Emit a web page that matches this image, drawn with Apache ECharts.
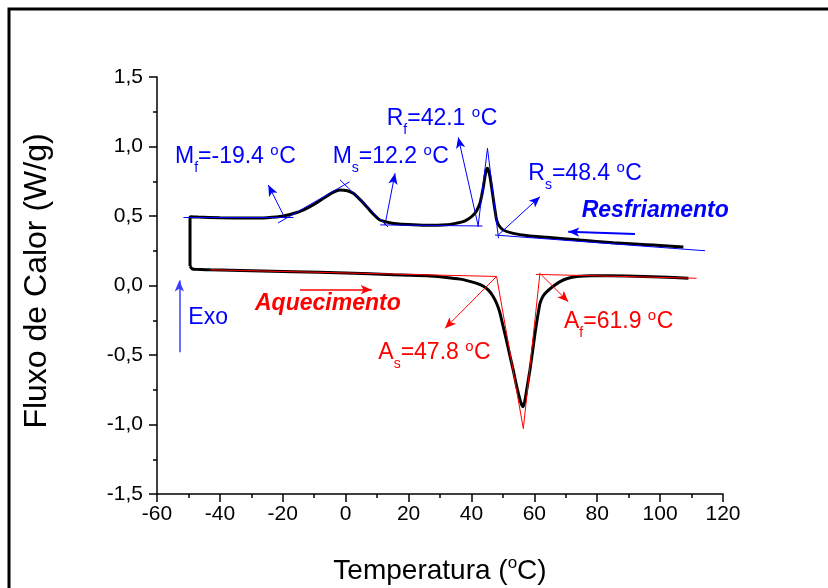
<!DOCTYPE html>
<html><head><meta charset="utf-8">
<script src="https://cdn.jsdelivr.net/npm/echarts@6/dist/echarts.min.js"></script>
<style>html,body{margin:0;padding:0;background:#fff}#c{width:828px;height:588px}</style>
</head><body><div id="c"></div>
<script>
// Cooling curve (Resfriamento), read right to left, incl. vertical drop at -49.5 °C
const coolT = [107.4, 100, 95.8, 85.1, 74.5, 64, 58, 53.3, 50.1, 48.8, 48.0, 47.5, 47.0, 46.4, 45.9, 45.4, 45.1, 44.7, 44.2, 43.8, 43.2, 42.7, 41.7, 40.6, 39, 37.4, 35, 32.1, 26, 21.5, 17, 14, 10.9, 8.5, 6.7, 4.5, 2.4, 0.5, -1.8, -4.5, -7.1, -10, -12.4, -15.5, -19.8, -25, -30.4, -40, -47, -49.5, -49.5];
const coolQ = [0.277, 0.288, 0.294, 0.308, 0.327, 0.347, 0.358, 0.375, 0.399, 0.43, 0.471, 0.54, 0.615, 0.71, 0.783, 0.83, 0.843, 0.83, 0.77, 0.711, 0.64, 0.591, 0.54, 0.507, 0.478, 0.459, 0.447, 0.437, 0.433, 0.437, 0.443, 0.452, 0.471, 0.52, 0.567, 0.62, 0.663, 0.682, 0.687, 0.665, 0.627, 0.585, 0.555, 0.525, 0.500, 0.488, 0.485, 0.488, 0.492, 0.495, 0.14];
// Heating curve (Aquecimento)
const heatT = [-49.5, -48.8, -47.5, -46, -43, -30, -16.6, 0, 15.2, 25.8, 32, 36.4, 39.5, 41.7, 43.8, 45.4, 46.8, 48.0, 49.1, 50.1, 51.2, 52.3, 53.4, 54.4, 55.3, 56.0, 56.4, 56.9, 57.5, 58.6, 59.4, 60.2, 61.0, 61.8, 62.8, 64, 66, 68.2, 70.5, 73.5, 78, 89.4, 100, 109];
const heatQ = [0.14, 0.12, 0.116, 0.115, 0.113, 0.106, 0.099, 0.09, 0.078, 0.070, 0.058, 0.046, 0.03, 0.015, -0.005, -0.033, -0.075, -0.128, -0.2, -0.296, -0.40, -0.512, -0.62, -0.728, -0.81, -0.860, -0.872, -0.84, -0.76, -0.608, -0.48, -0.347, -0.23, -0.128, -0.075, -0.044, -0.005, 0.028, 0.05, 0.064, 0.07, 0.069, 0.061, 0.052];

// Tangent constructions [x1, y1, x2, y2]
const tangentsBlue = [
  [-51.6, 0.493, -16.6, 0.493],
  [-21.5, 0.45, 1.2, 0.745],
  [-1.8, 0.76, 13.5, 0.42],
  [11.0, 0.436, 43.5, 0.428],
  [42.1, 0.425, 45.1, 0.987],
  [45.1, 0.987, 48.6, 0.34],
  [47.5, 0.363, 114.3, 0.25]
];
const arrowsBlue = [
  [-19.3, 0.484, -24.6, 0.723],
  [12.5, 0.435, 15.7, 0.807],
  [42.2, 0.423, 35.8, 1.066],
  [48.5, 0.363, 61.8, 0.639]
];
const tangentsRed = [
  [-43.0, 0.113, 48.0, 0.065],
  [48.0, 0.065, 56.5, -1.03],
  [61.8, 0.092, 56.5, -1.03],
  [60.5, 0.08, 111.6, 0.052]
];
const arrowsRed = [
  [48.0, 0.065, 31.6, -0.308],
  [62.3, 0.075, 70.8, -0.117]
];
const arrowResfriamento = [92.0, 0.37, 70.8, 0.387];
const arrowAquecimento = [-14.5, -0.03, 8.3, -0.03];
const arrowExo = [-52.9, -0.48, -52.9, 0.036];

const xMin = -60, xMax = 120, xStep = 20;
const yMin = -1.5, yMax = 1.5, yStep = 0.5;

const FAM = '"Liberation Sans", Arial, Helvetica, sans-serif';
const mctx = document.createElement('canvas').getContext('2d');
function fontStr(fs, st) { return (st || '') + ' ' + fs + 'px ' + FAM; }
function tw(t, fs, st) { mctx.font = fontStr(fs, st); return mctx.measureText(t).width; }
function piece(x, baseline, t, fs, color, st) {
  return {type: 'text', x: x, y: baseline - 0.3465 * fs, z: 100, silent: true,
    style: {text: t, font: fontStr(fs, st), fill: color, align: 'left', verticalAlign: 'middle'}};
}
// label like M_f=-19.4 °C built from pieces (main, subscript, rest, superscript o, C)
function subLabel(x, baseline, main, sub, rest, color) {
  const F = 23, S = 15;
  const out = [];
  let cx = x;
  out.push(piece(cx, baseline, main, F, color)); cx += tw(main, F);
  out.push(piece(cx, baseline + 8, sub, 14, color)); cx += tw(sub, 14);
  out.push(piece(cx, baseline, rest, F, color)); cx += tw(rest, F);
  out.push(piece(cx, baseline - 9, 'o', S, color)); cx += tw('o', S) + 0.5;
  out.push(piece(cx, baseline, 'C', F, color));
  return out;
}
function degTitle(before, after, F) {
  const S = Math.round(F * 0.6);
  const w1 = tw(before, F), w2 = tw('o', S), w3 = tw(after, F);
  const total = w1 + w2 + w3;
  let cx = -total / 2;
  const out = [piece(cx, 0, before, F, '#000')]; cx += w1;
  out.push(piece(cx, -F * 0.716 + F * 0.3, 'o', S, '#000')); cx += w2;
  out.push(piece(cx, 0, after, F, '#000'));
  return out;
}
function centered(t, F) { return [piece(-tw(t, F) / 2, 0, t, F, '#000')]; }

function seg(s, arrow, extra) {
  const a = Object.assign({coord: [s[0], s[1]], symbol: 'none'}, extra || {});
  const b = Object.assign({coord: [s[2], s[3]], symbol: arrow ? 'arrow' : 'none', symbolSize: [7, 11]}, extra || {});
  return [a, b];
}
function annotSeries(color, tangents, arrows, extraLines) {
  const data = tangents.map(s => seg(s, false)).concat(arrows.map(s => seg(s, true)));
  (extraLines || []).forEach(e => data.push(seg(e.s, true, {lineStyle: {width: e.w, color: e.c || color}})));
  return {
    type: 'line', data: [], z: 5, silent: true,
    markLine: {
      silent: true, animation: false, symbol: ['none', 'none'], precision: 4,
      label: {show: false}, emphasis: {disabled: true},
      lineStyle: {color: color, width: 1, type: 'solid'},
      data: data
    }
  };
}

const BLUE = '#0000ff', RED = '#ff0000';
const graphics = [
  {type: 'rect', shape: {x: 9, y: 9, width: 900, height: 700}, z: 0, silent: true,
   style: {fill: 'none', stroke: '#000', lineWidth: 3}}
].concat(
  subLabel(175, 165, 'M', 'f', '=-19.4 ', BLUE),
  subLabel(332.7, 165, 'M', 's', '=12.2 ', BLUE),
  subLabel(386.7, 126.7, 'R', 'f', '=42.1 ', BLUE),
  subLabel(528.3, 181.7, 'R', 's', '=48.4 ', BLUE),
  subLabel(378.3, 360.7, 'A', 's', '=47.8 ', RED),
  subLabel(564, 330, 'A', 'f', '=61.9 ', RED),
  [piece(581.7, 218.3, 'Resfriamento', 23, BLUE, 'italic bold'),
   piece(255, 311.7, 'Aquecimento', 23, RED, 'italic bold'),
   piece(188.3, 326, 'Exo', 23, BLUE),
   {type: 'group', x: 440, y: 581, children: degTitle('Temperatura (', 'C)', 28)},
   {type: 'group', x: 48, y: 281, rotation: Math.PI / 2, children: centered('Fluxo de Calor (W/g)', 32)}]
);

const chart = echarts.init(document.getElementById('c'), null, {renderer: 'canvas'});
const axisCommon = {
  axisLine: {onZero: false, lineStyle: {color: '#000', width: 1.5}},
  axisTick: {show: true, inside: false, length: 8, lineStyle: {color: '#000', width: 1.5}},
  minorTick: {show: true, splitNumber: 2, length: 4, lineStyle: {color: '#000', width: 1.5}},
  splitLine: {show: false}
};
chart.setOption({
  animation: false,
  backgroundColor: '#fff',
  grid: {left: 157, right: 105, top: 77, bottom: 94, containLabel: false},
  xAxis: Object.assign({
    type: 'value', min: xMin, max: xMax, interval: xStep,
    axisLabel: {color: '#000', fontSize: 21, fontFamily: FAM, margin: 10}
  }, axisCommon),
  yAxis: Object.assign({
    type: 'value', min: yMin, max: yMax, interval: yStep,
    axisLabel: {color: '#000', fontSize: 21, fontFamily: FAM, margin: 14,
      formatter: v => v.toFixed(1).replace('.', ',')}
  }, axisCommon),
  series: [
    {type: 'line', name: 'Resfriamento', data: coolT.map((t, i) => [t, coolQ[i]]),
     symbol: 'none', smooth: 0.15, lineStyle: {color: '#000', width: 3}, z: 3, silent: true},
    {type: 'line', name: 'Aquecimento', data: heatT.map((t, i) => [t, heatQ[i]]),
     symbol: 'none', smooth: 0.15, lineStyle: {color: '#000', width: 3}, z: 3, silent: true},
    annotSeries(BLUE, tangentsBlue, arrowsBlue, [
      {s: arrowResfriamento, w: 2},
      {s: arrowExo, w: 1.5, c: '#3c3cff'}
    ]),
    annotSeries(RED, tangentsRed, arrowsRed, [
      {s: arrowAquecimento, w: 1.5}
    ])
  ],
  graphic: graphics
});
</script>
</body></html>
